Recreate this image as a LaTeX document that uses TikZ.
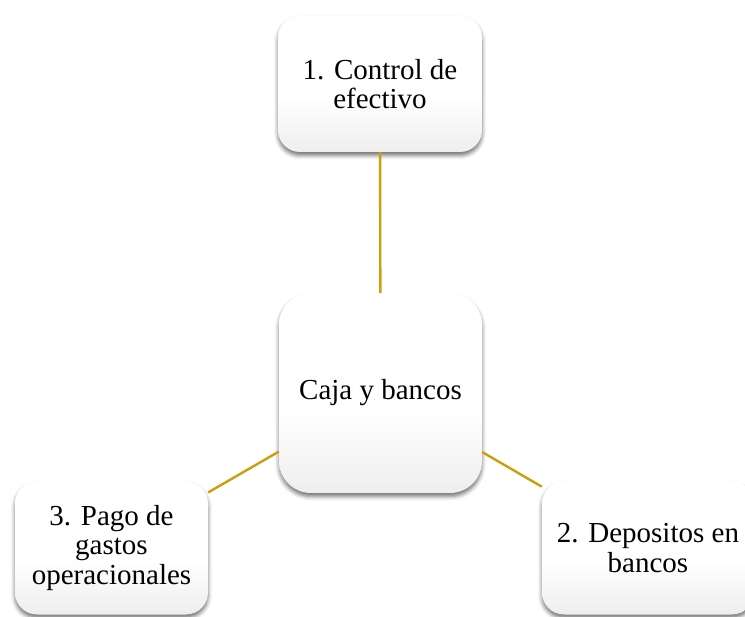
\documentclass[tikz,border=0pt]{standalone}
\usepackage{fontspec}
\setmainfont{Liberation Serif}
\usetikzlibrary{shadows.blur}
\pgfdeclareverticalshading{boxshade}{100bp}{color(0bp)=(black!15); color(45bp)=(white); color(100bp)=(white)}
\definecolor{linkgold}{RGB}{204,158,10}
\tikzset{
  box/.style={shading=boxshade, rounded corners=#1, align=center, inner sep=0pt,
    font=\fontsize{29}{29.5}\selectfont,
    blur shadow={shadow xshift=0pt, shadow yshift=-3.5pt, shadow blur radius=4pt, shadow opacity=55}},
  link/.style={draw=linkgold, line width=2.4pt}
}
\begin{document}
\begin{tikzpicture}[x=1pt,y=-1pt]
\useasboundingbox (0,0) rectangle (745,617);
\begin{scope}
\clip (0,0) rectangle (745,617);
\node[box=22pt, minimum width=204pt, minimum height=136pt] (ctrl) at (380,84) {1. Control de\\efectivo};
\node[box=32pt, minimum width=203pt, minimum height=200pt] (caja) at (380.5,393) {\raisebox{-3pt}{Caja y bancos}};
\node[box=22pt, minimum width=193pt, minimum height=133pt] (pago) at (111.5,548) {3. Pago de\\gastos\\operacionales};
\node[box=22pt, minimum width=212pt, minimum height=133pt] (dep) at (648,548) {2. Depositos en\\bancos};
\draw[link] (ctrl) -- (caja);
\draw[link] (caja) -- (pago);
\draw[link] (caja) -- (dep);
\end{scope}
\end{tikzpicture}
\end{document}
